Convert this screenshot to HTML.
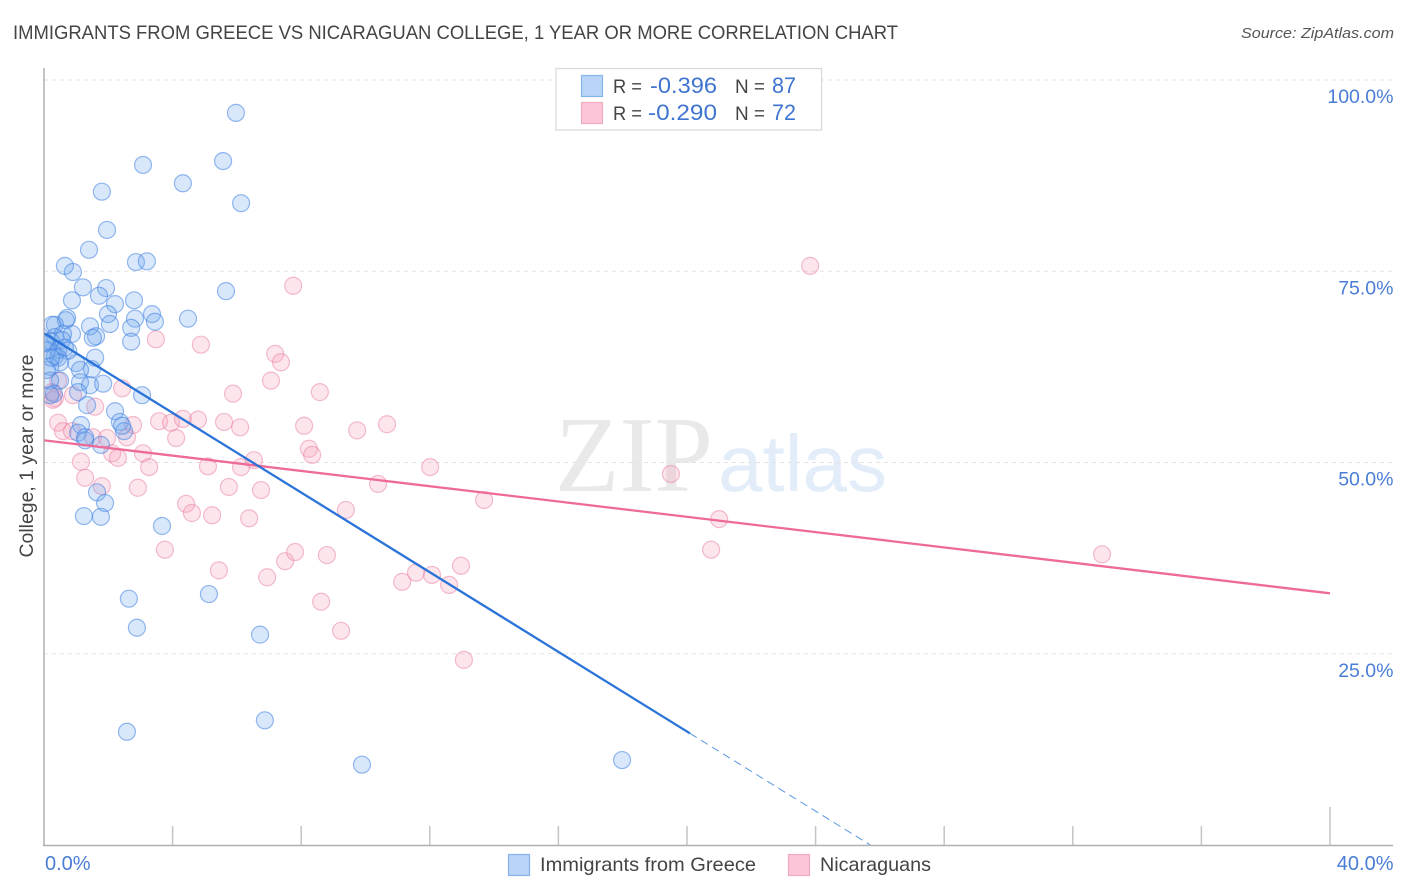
<!DOCTYPE html>
<html lang="en">
<head>
<meta charset="utf-8">
<title>Immigrants from Greece vs Nicaraguan College Correlation Chart</title>
<style>
html,body{margin:0;padding:0;background:#fff;width:1406px;height:892px;overflow:hidden}
svg{display:block}
text{font-family:"Liberation Sans",sans-serif}
</style>
</head>
<body>
<svg id="chart" xmlns="http://www.w3.org/2000/svg" width="1406" height="892" viewBox="0 0 1406 892">
  <defs>
    <clipPath id="plot-clip"><rect x="44.500" y="60" width="1349" height="785"/></clipPath>
  </defs>
  <text x="13" y="39" font-size="19.5" fill="#444" textLength="885" lengthAdjust="spacingAndGlyphs">IMMIGRANTS FROM GREECE VS NICARAGUAN COLLEGE, 1 YEAR OR MORE CORRELATION CHART</text>
  <text x="1394" y="38" font-size="15" font-style="italic" fill="#555" text-anchor="end" textLength="153" lengthAdjust="spacingAndGlyphs">Source: ZipAtlas.com</text>
  <g id="watermark">
    <text x="555" y="491" font-size="108" fill="#e9e9e9" textLength="158" lengthAdjust="spacingAndGlyphs" style='font-family:"Liberation Serif",serif'>ZIP</text>
    <text x="718" y="491" font-size="80" fill="#e3edfa" textLength="169" lengthAdjust="spacingAndGlyphs">atlas</text>
  </g>
  <g id="grid"></g>
  <g id="axes"></g>
  <g id="points" clip-path="url(#plot-clip)"></g>
  <g id="trends" clip-path="url(#plot-clip)"></g>
  <text transform="translate(33,456) rotate(-90)" font-size="19" fill="#444" text-anchor="middle" textLength="203" lengthAdjust="spacingAndGlyphs">College, 1 year or more</text>

  <g>
    <rect x="556" y="68.500" width="265.500" height="61.500" fill="#fff" stroke="#d8d8d8" stroke-width="1.200"/>
    <rect x="581.500" y="75.500" width="21" height="21" fill="#b8d4f8" stroke="#86b3ec" stroke-width="1.200"/>
    <rect x="581.500" y="102.500" width="21" height="21" fill="#fcc6d8" stroke="#f3a9c2" stroke-width="1.200"/>
    <text x="613" y="93" font-size="19" fill="#444" textLength="29" lengthAdjust="spacingAndGlyphs">R =</text>
    <text x="650" y="93" font-size="22" fill="#3f74d0" textLength="67" lengthAdjust="spacingAndGlyphs">-0.396</text>
    <text x="735" y="93" font-size="19" fill="#444" textLength="30" lengthAdjust="spacingAndGlyphs">N =</text>
    <text x="772" y="93" font-size="22" fill="#3f74d0" textLength="24" lengthAdjust="spacingAndGlyphs">87</text>
    <text x="613" y="120" font-size="19" fill="#444" textLength="29" lengthAdjust="spacingAndGlyphs">R =</text>
    <text x="648" y="120" font-size="22" fill="#3f74d0" textLength="69" lengthAdjust="spacingAndGlyphs">-0.290</text>
    <text x="735" y="120" font-size="19" fill="#444" textLength="30" lengthAdjust="spacingAndGlyphs">N =</text>
    <text x="772" y="120" font-size="22" fill="#3f74d0" textLength="24" lengthAdjust="spacingAndGlyphs">72</text>
  </g>

  <g>
    <rect x="508.500" y="854.500" width="21" height="21" fill="#b8d4f8" stroke="#86b3ec" stroke-width="1.200"/>
    <text x="540" y="871" font-size="19.500" fill="#444" textLength="216" lengthAdjust="spacingAndGlyphs">Immigrants from Greece</text>
    <rect x="788.500" y="854.500" width="21" height="21" fill="#fcc6d8" stroke="#f3a9c2" stroke-width="1.200"/>
    <text x="820" y="871" font-size="19.500" fill="#444" textLength="111" lengthAdjust="spacingAndGlyphs">Nicaraguans</text>
  </g>
</svg>
<script>
const greeceX = [5.97,3.08,5.57,4.32,1.80,6.13,1.96,1.40,0.65,2.86,3.20,0.90,1.21,1.93,5.66,0.87,1.71,2.21,2.80,1.99,3.36,0.72,0.68,4.48,2.83,1.43,0.34,0.25,2.05,3.45,2.71,1.62,1.52,0.87,0.59,0.34,0.56,2.71,0.22,0.09,0.44,0.75,0.34,0.44,1.59,0.50,1.00,1.49,1.12,0.19,1.12,1.43,1.84,0.50,0.19,1.06,3.05,0.31,1.34,2.21,2.36,1.15,2.49,1.06,1.28,1.77,1.65,1.90,1.24,1.77,3.67,5.13,2.64,2.89,6.72,6.87,2.58,9.89,17.98,0.09,0.03,0.19,0.09,0.22,0.65,2.43,1.28];
const greeceY = [95.7,88.9,89.4,86.5,85.4,83.9,80.4,77.8,75.7,76.2,76.3,74.9,72.9,72.8,72.4,71.2,71.8,70.7,71.2,69.4,69.4,68.9,68.6,68.8,68.8,67.8,68.0,68.0,68.1,68.4,67.6,66.5,66.3,66.8,66.8,66.4,66.0,65.8,65.8,65.6,64.7,64.6,63.9,63.7,63.7,63.1,63.0,62.2,62.1,62.5,60.5,60.1,60.3,60.7,60.7,59.2,58.8,59.0,57.5,56.7,55.3,54.9,54.1,53.9,52.9,52.3,46.1,44.7,43.0,42.9,41.7,32.8,32.2,28.4,27.5,16.3,14.8,10.5,11.1,64.7,65.8,58.8,62.1,63.7,65.0,54.8,53.3];
const nicaraguaX = [23.83,7.75,3.48,4.88,7.19,7.37,7.06,8.58,5.88,2.43,0.44,0.34,0.28,0.25,0.90,1.59,3.58,3.95,4.32,4.79,5.60,6.10,8.09,9.74,10.67,0.44,0.59,0.87,1.52,2.58,2.77,1.96,4.11,3.08,2.12,2.30,1.15,3.27,5.10,6.13,6.53,8.24,8.34,12.01,10.39,1.28,1.80,2.92,5.75,6.75,4.42,4.60,5.23,6.38,9.39,13.69,19.50,21.00,20.75,32.91,3.76,5.44,6.94,7.50,7.81,8.80,11.57,11.14,12.07,12.60,12.97,8.62,9.24,13.06];
const nicaraguaY = [75.7,73.1,66.1,65.4,64.2,63.1,60.7,59.2,59.0,59.7,60.7,58.4,58.2,59.2,58.8,57.3,55.4,55.2,55.7,55.6,55.3,54.6,54.8,54.2,55.0,55.2,54.1,54.1,53.3,53.3,54.9,53.2,53.2,51.2,51.2,50.6,50.1,49.4,49.5,49.4,50.3,51.8,51.0,49.4,47.2,48.0,46.9,46.7,46.8,46.4,44.6,43.4,43.1,42.7,43.8,45.1,48.5,42.6,38.6,38.0,38.6,35.9,35.0,37.1,38.3,37.9,35.6,34.4,35.3,34.0,36.5,31.8,28.0,24.2];
const greeceTrendX = [0, 20.09, 25.7];
const greeceTrendY = [66.9, 14.6, 0];
const nicaraguaTrendX = [0, 40];
const nicaraguaTrendY = [52.9, 32.9];
const yTickValues = [25, 50, 75, 100];
const yTickLabels = ["25.0%", "50.0%", "75.0%", "100.0%"];
const xTickValues = [0, 4, 8, 12, 16, 20, 24, 28, 32, 36, 40];
const xEndValues = [0, 40];
const xEndLabels = ["0.0%", "40.0%"];

const NS = "http://www.w3.org/2000/svg";
const xScale = v => 44 + v * 32.15;
const yScale = v => 845 - v * 7.65;

function make(tag, parent, attrs) {
  const el = document.createElementNS(NS, tag);
  for (const k in attrs) el.setAttribute(k, attrs[k]);
  document.getElementById(parent).appendChild(el);
  return el;
}

yTickValues.forEach((v, i) => {
  const g = make("line", "grid", {x1: 44, x2: 1393, y1: yScale(v), y2: yScale(v), stroke: "#e2e2e2", "stroke-width": 1, "stroke-dasharray": "4 4"});
  
  
  const t = make("text", "axes", {x: 1393.5, y: yScale(v) + 23, "font-size": 19.5, fill: "#4a7dd6", "text-anchor": "end"});
  t.textContent = yTickLabels[i];
  
  
});

const yAxis = make("line", "axes", {x1: 44, x2: 44, y1: 68, y2: 846, stroke: "#b0b0b0", "stroke-width": 1.5});


const xAxis = make("line", "axes", {x1: 43, x2: 1393, y1: 845.5, y2: 845.5, stroke: "#b0b0b0", "stroke-width": 1.5});



xTickValues.forEach(v => {
  if (v === 0) return;
  const t = make("line", "axes", {x1: xScale(v), x2: xScale(v), y1: v === 40 ? 807 : 826, y2: 845, stroke: "#c4c4c4", "stroke-width": 1.5});
  
  
});

xEndValues.forEach((v, i) => {
  const t = make("text", "axes", {x: v === 0 ? xScale(v) + 1 : 1393.5, y: 870, "font-size": 20, fill: "#4a7dd6", "text-anchor": v === 0 ? "start" : "end"});
  t.textContent = xEndLabels[i];
  
  
});

nicaraguaX.forEach((v, i) => {
  const c = make("circle", "points", {cx: xScale(v), cy: yScale(nicaraguaY[i]), r: 8.5, fill: "rgba(248,160,188,0.28)", stroke: "rgba(232,125,162,0.50)", "stroke-width": 1.2});
  
  
});
greeceX.forEach((v, i) => {
  const c = make("circle", "points", {cx: xScale(v), cy: yScale(greeceY[i]), r: 8.5, fill: "rgba(110,165,238,0.27)", stroke: "rgba(65,130,225,0.55)", "stroke-width": 1.2});
  
  
});

const pinkLine = make("line", "trends", {x1: xScale(nicaraguaTrendX[0]), y1: yScale(nicaraguaTrendY[0]), x2: xScale(nicaraguaTrendX[1]), y2: yScale(nicaraguaTrendY[1]), stroke: "#ee6a98", "stroke-width": 2.3});


const blueLine = make("line", "trends", {x1: xScale(greeceTrendX[0]), y1: yScale(greeceTrendY[0]), x2: xScale(greeceTrendX[1]), y2: yScale(greeceTrendY[1]), stroke: "#2a73d8", "stroke-width": 2.3});


const blueDash = make("line", "trends", {x1: xScale(greeceTrendX[1]), y1: yScale(greeceTrendY[1]), x2: xScale(greeceTrendX[2]), y2: yScale(greeceTrendY[2]), stroke: "#5a96e2", "stroke-width": 1, "stroke-dasharray": "8 5"});


</script>
</body>
</html>
